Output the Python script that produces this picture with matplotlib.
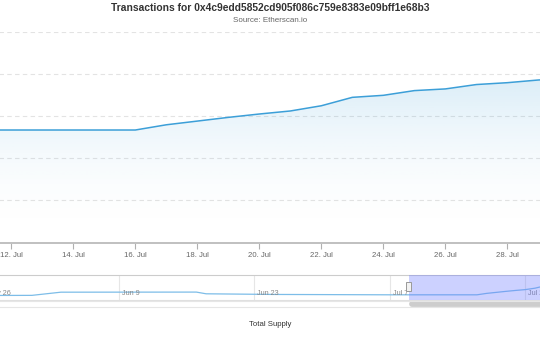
import numpy as np
import pandas as pd
import matplotlib.pyplot as plt
import matplotlib.dates as mdates
import matplotlib.transforms as mtransforms
from matplotlib.patches import Rectangle

plt.rcParams['font.family'] = ['Liberation Sans', 'DejaVu Sans']

title = "Transactions for 0x4c9edd5852cd905f086c759e8383e09bff1e68b3"
subtitle = "Source: Etherscan.io"
series_name = "Total Supply"

# daily values shown in the main chart
dates = pd.date_range("2025-07-11", "2025-07-30", freq="D")
values = [668, 668, 668, 668, 668, 668, 699, 721, 743, 763,
          781, 812, 862, 874, 902, 912, 938, 949, 965, 975]

# earlier history only visible in the navigator
history_dates = pd.to_datetime(["2025-05-27", "2025-05-31", "2025-06-03", "2025-06-17",
                                "2025-06-18", "2025-06-25", "2025-07-07"])
history_values = [654, 656, 725, 727, 690, 676, 668]

y_ticks = [0, 250, 500, 750, 1000, 1250]
x_tick_dates = pd.date_range("2025-07-12", "2025-07-28", freq="2D")
nav_tick_dates = pd.to_datetime(["2025-05-26", "2025-06-09", "2025-06-23", "2025-07-07", "2025-07-21"])

view_start = pd.Timestamp("2025-07-08 23:00")
view_end = pd.Timestamp("2025-08-01 00:30")
nav_start = pd.Timestamp("2025-05-19 03:00")

W, H = 540, 340
line_color = "#3c9fd8"


def px_box(left, top, right, bottom):
    return [left / W, 1 - bottom / H, (right - left) / W, (bottom - top) / H]


fig = plt.figure(figsize=(W / 100, H / 100), dpi=100)
fig.patch.set_facecolor("white")

# ---- main chart ----
ax = fig.add_axes(px_box(-83, 32, 632, 242.5))
ax.set_xlim(view_start, view_end)
ax.set_ylim(0, 1250)
ax.set_yticks(y_ticks)
ax.yaxis.grid(True, color="#e3e3e3", ls=(0, (4, 3)), lw=0.8)
ax.set_axisbelow(True)
for s in ["left", "right", "top"]:
    ax.spines[s].set_visible(False)
ax.spines["bottom"].set_color("#c0c0c0")
ax.spines["bottom"].set_linewidth(1.4)
ax.tick_params(axis="y", left=False, labelleft=False)
ax.set_xticks(x_tick_dates)
ax.xaxis.set_major_formatter(mdates.DateFormatter("%d. %b"))
ax.tick_params(axis="x", direction="out", length=4, width=0.8, color="#b0b0b0",
               labelsize=5.6, labelcolor="#666666", pad=3)

poly = ax.fill_between(dates, values, 0, facecolor="none", edgecolor="none")
vmax = max(values)
t = np.linspace(0, 1, 256)[:, None]
grad = np.zeros((256, 1, 4))
grad[..., 0] = 60 / 255
grad[..., 1] = 160 / 255
grad[..., 2] = 216 / 255
grad[..., 3] = 0.19 * (1 - t) ** 2
x0, x1 = mdates.date2num(dates[0]), mdates.date2num(dates[-1])
im = ax.imshow(grad, extent=[x0, x1, 0, vmax], aspect="auto", origin="upper", zorder=1)
im.set_clip_path(poly.get_paths()[0], ax.transData)
ax.set_xlim(view_start, view_end)
ax.set_ylim(0, 1250)
ax.plot(dates, values, color=line_color, lw=1.1, zorder=3)

# ---- navigator ----
nav = fig.add_axes(px_box(-83, 274.7, 632, 300.3))
nav_dates = list(history_dates) + list(dates)
nav_values = history_values + values
nav.set_xlim(nav_start, view_end)
nav.set_ylim(549, 1104)
nav.set_xticks([])
nav.set_yticks([])
for s in ["left", "right"]:
    nav.spines[s].set_visible(False)
nav.spines["top"].set_color("#cccccc")
nav.spines["bottom"].set_color("#e0e0e0")
for d in nav_tick_dates:
    nav.axvline(d, color="#e6e6e6", lw=0.8, zorder=0)
    lbl = mtransforms.offset_copy(nav.get_xaxis_transform(), fig=fig, x=3, y=0, units="dots")
    nav.text(d, 0.25, d.strftime("%b %-d"), transform=lbl, fontsize=5.2,
             color="#888888", va="center", ha="left")
nav.plot(nav_dates, nav_values, color="#7dbde8", lw=0.9, zorder=2)
nav.axvspan(view_start, view_end, color=(0.43, 0.49, 1.0), alpha=0.35, lw=0, zorder=3)

# selection handle
fig.canvas.draw()
hx = nav.transData.transform((mdates.date2num(view_start), 0))[0]
fig.add_artist(Rectangle((hx - 2.5, H - 291), 5, 9, transform=mtransforms.IdentityTransform(),
                         facecolor="#f2f2f2", edgecolor="#999999", lw=0.7, zorder=5))

# ---- scrollbar ----
sb = fig.add_axes(px_box(-83, 300.8, 632, 307.3))
sb.set_xlim(nav_start, view_end)
sb.set_ylim(0, 1)
sb.set_xticks([])
sb.set_yticks([])
for s in ["left", "right"]:
    sb.spines[s].set_visible(False)
for s in ["top", "bottom"]:
    sb.spines[s].set_color("#e6e6e6")
sb.plot([view_start + pd.Timedelta(hours=9), view_end], [0.5, 0.5], color="#cdcdcd",
        lw=4.2, solid_capstyle="round")

# ---- texts ----
fig.text(0.5, 1 - 7.6 / H, title, ha="center", va="center", fontsize=7.4,
         fontweight="bold", color="#333333")
fig.text(0.5, 1 - 20.7 / H, subtitle, ha="center", va="center", fontsize=5.8, color="#666666")
fig.text(0.5, 1 - 325 / H, series_name, ha="center", va="center", fontsize=5.6, color="#333333")

fig.savefig("out.png", dpi=100)
